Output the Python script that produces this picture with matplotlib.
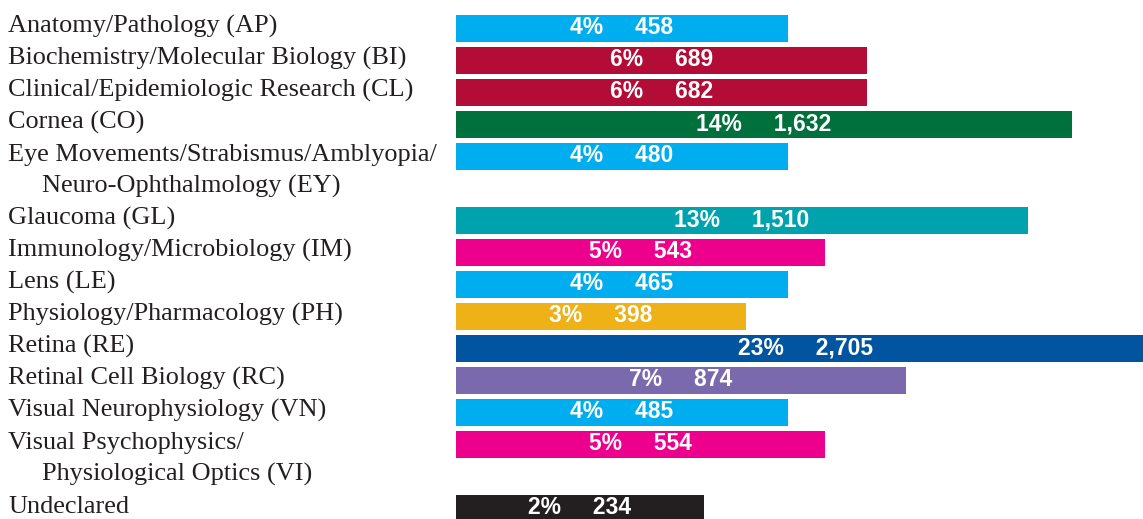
import matplotlib.pyplot as plt

labels = [
    ["Anatomy/Pathology (AP)"],
    ["Biochemistry/Molecular Biology (BI)"],
    ["Clinical/Epidemiologic Research (CL)"],
    ["Cornea (CO)"],
    ["Eye Movements/Strabismus/Amblyopia/", "Neuro-Ophthalmology (EY)"],
    ["Glaucoma (GL)"],
    ["Immunology/Microbiology (IM)"],
    ["Lens (LE)"],
    ["Physiology/Pharmacology (PH)"],
    ["Retina (RE)"],
    ["Retinal Cell Biology (RC)"],
    ["Visual Neurophysiology (VN)"],
    ["Visual Psychophysics/", "Physiological Optics (VI)"],
    ["Undeclared"],
]
pct = [4, 6, 6, 14, 4, 13, 5, 4, 3, 23, 7, 4, 5, 2]
counts = [458, 689, 682, 1632, 480, 1510, 543, 465, 398, 2705, 874, 485, 554, 234]
# drawn bar lengths (the original scale is not linear)
bar_len = [332, 411, 411, 616, 332, 572, 369, 332, 290, 700, 450, 332, 369, 248]
colors = ["#00AEEF", "#B20C37", "#B20C37", "#00703C", "#00AEEF", "#00A3AD", "#EC008C",
          "#00AEEF", "#EEB117", "#0054A0", "#7B69AE", "#00AEEF", "#EC008C", "#231F20"]

# row of each category (two-line labels take two rows)
rows = []
r = 0
for lab in labels:
    rows.append(r)
    r += len(lab)

fig = plt.figure(figsize=(11.43, 5.19), dpi=100)
ax = fig.add_axes([0, 0, 1, 1])
px = 1 / 32  # one pixel in row units
top = -28.5 * px
ax.set_xlim(-456, 687)
ax.set_ylim(top + 519 * px, top)
ax.axis('off')

ax.barh(rows, bar_len, height=27.5 * px, color=colors, left=0)

for i, lab in enumerate(labels):
    for j, line in enumerate(lab):
        x = -448 if j == 0 else -414
        ax.text(x, rows[i] + j + 4.5 * px, line, ha='left', va='baseline',
                fontsize=18.9, family='Liberation Serif', color='#231F20')
    ax.text(bar_len[i] / 2, rows[i] + 5.5 * px, f"{pct[i]}%     {counts[i]:,}",
            ha='center', va='baseline', color='white', fontweight='bold',
            fontsize=16.5, family='Liberation Sans')

plt.savefig('out.png', dpi=100)
